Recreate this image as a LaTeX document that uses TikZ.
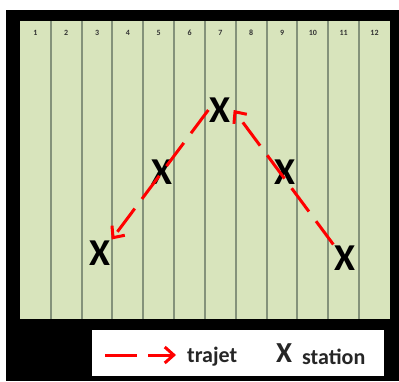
\documentclass[tikz,border=0pt]{standalone}
\usepackage{fontspec}
\setmainfont{Carlito}
\usepackage{xcolor}
\usetikzlibrary{arrows.meta,positioning}
\definecolor{lane}{HTML}{D8E4BC}
\definecolor{laneline}{HTML}{84927A}
\begin{document}
\begin{tikzpicture}[
        x=1pt, y=-1pt,
        >={Straight Barb[length=9pt,width=16pt]},
        num/.style={font=\fontsize{8}{8}\selectfont\bfseries, text=black!80, inner sep=0pt},
        station/.style={font=\fontsize{38}{38}\selectfont\bfseries, inner sep=1pt},
        route/.style={draw=red, line width=3pt, dash pattern=on 29pt off 12pt, ->},
        legtext/.style={font=\fontsize{22}{22}\selectfont\bfseries, text=black!85, inner sep=0pt, anchor=base west}
    ]
        \fill[white] (0,0) rectangle (399,381);
        \useasboundingbox (0,0) rectangle (399,381);
        \fill[black] (6,10) rectangle (399,381);
        \fill[lane] (20,21) rectangle (390,319);
        \foreach \k in {1,...,11}
            \draw[laneline, line width=2pt] ({20+30.83*\k},21) -- ({20+30.83*\k},319);
        \foreach \k in {1,...,12}
            \node[num] (n\k) at ({20+30.83*(\k-0.5)},33) {\k};

        \node[station] (s7)  at (220,110) {X};
        \node[station] (s5)  at (162,172) {X};
        \node[station] (s9)  at (285,172) {X};
        \node[station] (s3)  at (100,253) {X};
        \node[station] (s11) at (345,258) {X};

        \draw[route] (s11.north west) -- ([xshift=2pt]s7.east);
        \draw[route] (s7.west) -- (s3.north east);

        \node[fill=white, minimum width=292, minimum height=46, anchor=north west, inner sep=0pt] (leg) at (92,330) {};
        \coordinate (lgA) at (105,355);
        \coordinate (lgB) at (176,355);
        \draw[route, dash pattern=on 32pt off 11pt] (lgA) -- (lgB);
        \node[legtext] (lgtrajet) at (187,362) {trajet};
        \node[legtext, font=\fontsize{29}{29}\selectfont\bfseries] (lgx) at (276,362) {X};
        \node[legtext] (lgstation) at (302,364) {station};
    \end{tikzpicture}
\end{document}
